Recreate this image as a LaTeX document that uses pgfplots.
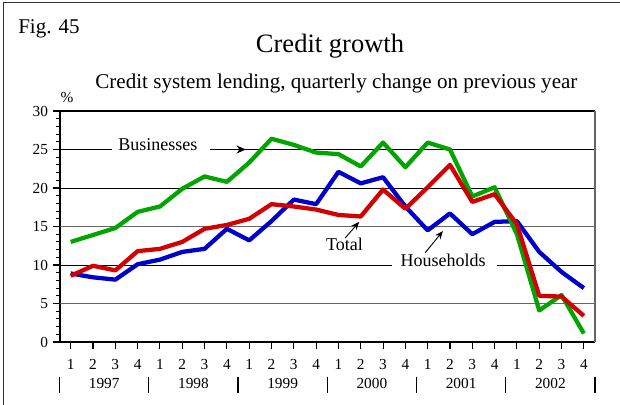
\documentclass[border=0pt]{standalone}
\usepackage{pgfplots}
\pgfplotsset{compat=1.18}
\usepackage{fontspec}
\setmainfont{Liberation Serif}
\usetikzlibrary{arrows.meta}
\definecolor{cgreen}{RGB}{0,165,0}
\definecolor{cblue}{RGB}{0,0,205}
\definecolor{cred}{RGB}{210,0,0}
\begin{document}
\begin{tikzpicture}
\useasboundingbox (0,0) rectangle (465pt,-303pt);
\draw[black!80, line width=0.9pt] (2.6pt,-310pt) -- (2.6pt,-1.9pt) -- (470pt,-1.9pt);
\node[anchor=base west, inner sep=0pt, font=\fontsize{15.75}{18}\selectfont] at (13.5pt,-25pt) {Fig. 45};
\node[anchor=base, inner sep=0pt, font=\fontsize{19.9}{23}\selectfont] at (247.5pt,-39.2pt) {Credit growth};
\node[anchor=base, inner sep=0pt, font=\fontsize{15.8}{18}\selectfont] at (252.3pt,-66.2pt) {Credit system lending, quarterly change on previous year};
\node[inner sep=0pt, font=\fontsize{11.5}{13}\selectfont] at (50.25pt,-72.75pt) {\%};
\begin{axis}[
  at={(45pt,-256.5pt)}, anchor=south west,
  scale only axis, width=401.25pt, height=173.25pt,
  xmin=-0.48, xmax=23.5, ymin=0, ymax=30,
  axis lines=left,
  axis line style={-, black, line width=1pt},
  tick align=outside,
  ytick={0,5,...,30},
  minor y tick num=4,
  major tick length=5.5pt,
  minor tick length=3pt,
  tick style={black, line width=0.8pt},
  xtick={0,...,23},
  xticklabels={1,2,3,4,1,2,3,4,1,2,3,4,1,2,3,4,1,2,3,4,1,2,3,4},
  ticklabel style={font=\fontsize{11.5}{13}\selectfont},
  xticklabel style={anchor=base, yshift=-15pt},
  yticklabel style={anchor=east},
  /pgf/number format/assume math mode=true,
  clip=false,
]
% grid lines
\draw[black, line width=0.75pt] (axis cs:-0.48,10) -- (axis cs:23.5,10);
\draw[black, line width=0.75pt] (axis cs:-0.48,20) -- (axis cs:23.5,20);
\draw[black, line width=0.75pt] (axis cs:-0.48,25) -- (axis cs:23.5,25);
\draw[black!60, line width=1.1pt] (axis cs:-0.48,5) -- (axis cs:23.5,5);
\draw[black!60, line width=1.1pt] (axis cs:-0.48,15) -- (axis cs:23.5,15);
\draw[black, line width=1pt] (axis cs:-0.48,30) -- (axis cs:23.5,30);
\draw[black!60, line width=1pt] (axis cs:23.5,0) -- (axis cs:23.5,30);
% white gaps for labels
\fill[white] (axis cs:1.84,24.5) rectangle (axis cs:6.25,25.5);
\fill[white] (axis cs:14.41,9.5) rectangle (axis cs:19.12,10.5);
% series
\addplot[cblue, line width=3.2pt, line join=round] coordinates {
(0,8.9) (1,8.4) (2,8.1) (3,10.1) (4,10.7) (5,11.7) (6,12.1) (7,14.7)
(8,13.2) (9,15.7) (10,18.5) (11,17.9) (12,22.1) (13,20.6) (14,21.4) (15,17.6)
(16,14.5) (17,16.7) (18,14.0) (19,15.6) (20,15.7) (21,11.7) (22,9.1) (23,7.0)};
\addplot[cgreen, line width=3.2pt, line join=round] coordinates {
(0,13.0) (1,13.9) (2,14.8) (3,16.9) (4,17.6) (5,19.9) (6,21.5) (7,20.8)
(8,23.3) (9,26.4) (10,25.6) (11,24.6) (12,24.4) (13,22.8) (14,25.9) (15,22.7)
(16,25.9) (17,25.0) (18,18.9) (19,20.1) (20,14.0) (21,4.1) (22,6.1) (23,1.1)};
\addplot[cred, line width=3.2pt, line join=round] coordinates {
(0,8.6) (1,9.9) (2,9.3) (3,11.8) (4,12.1) (5,13.0) (6,14.7) (7,15.2)
(8,16.0) (9,17.9) (10,17.6) (11,17.2) (12,16.5) (13,16.3) (14,19.8) (15,17.3)
(16,20.1) (17,23.0) (18,18.2) (19,19.2) (20,15.3) (21,6.0) (22,5.9) (23,3.4)};
% annotations
\node[anchor=base, inner sep=0pt, font=\fontsize{13.5}{16}\selectfont] at (axis cs:3.91,24.81) {Businesses};
\draw[black, line width=0.8pt, -{Stealth[length=7pt, width=6pt]}] (axis cs:6.25,25) -- (axis cs:7.85,25);
\node[anchor=base, inner sep=0pt, font=\fontsize{13.5}{16}\selectfont] at (axis cs:12.27,11.82) {Total};
\draw[black, line width=0.7pt, -{Stealth[length=6pt, width=5pt]}] (axis cs:12.30,13.5) -- (axis cs:12.93,15.6);
\node[anchor=base, inner sep=0pt, font=\fontsize{13.5}{16}\selectfont] at (axis cs:16.69,9.78) {Households};
\draw[black, line width=0.7pt, -{Stealth[length=6pt, width=5pt]}] (axis cs:15.89,11.6) -- (axis cs:16.68,14.4);
% year separators and labels
\pgfplotsinvokeforeach{-0.5,3.5,7.5,11.5,15.5,19.5,23.5}{
  \draw[black, line width=0.9pt] (axis cs:#1,-4.5) -- (axis cs:#1,-6.62);
}
\node[anchor=base, inner sep=0pt, font=\fontsize{11.5}{13}\selectfont] at (axis cs:1.5,-6.1) {1997};
\node[anchor=base, inner sep=0pt, font=\fontsize{11.5}{13}\selectfont] at (axis cs:5.5,-6.1) {1998};
\node[anchor=base, inner sep=0pt, font=\fontsize{11.5}{13}\selectfont] at (axis cs:9.5,-6.1) {1999};
\node[anchor=base, inner sep=0pt, font=\fontsize{11.5}{13}\selectfont] at (axis cs:13.5,-6.1) {2000};
\node[anchor=base, inner sep=0pt, font=\fontsize{11.5}{13}\selectfont] at (axis cs:17.5,-6.1) {2001};
\node[anchor=base, inner sep=0pt, font=\fontsize{11.5}{13}\selectfont] at (axis cs:21.5,-6.1) {2002};
\end{axis}
\end{tikzpicture}
\end{document}
